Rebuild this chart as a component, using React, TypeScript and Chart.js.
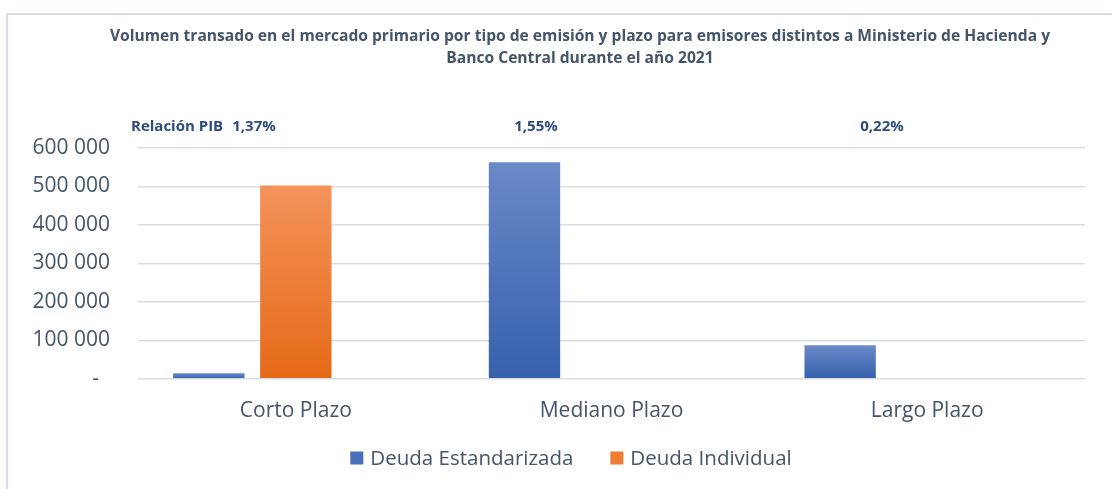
import React, { useEffect, useRef } from "react";
import { Chart, registerables } from "chart.js";

Chart.register(...registerables);

const categories = ["Corto Plazo", "Mediano Plazo", "Largo Plazo"];
const deudaEstandarizada = [14400, 562700, 87500];
const deudaIndividual = [502600, 0, 0];
const relacionPIB = ["1,37%", "1,55%", "0,22%"];
const seriesNames = ["Deuda Estandarizada", "Deuda Individual"];
const legendColors = ["#4A6FB9", "#EE7C35"];
const titleLines = [
  "Volumen transado en el mercado primario por tipo de emisión y plazo para emisores distintos a Ministerio de Hacienda y",
  "Banco Central durante el año 2021",
];

const FONT = "'Open Sans', 'Noto Sans', sans-serif";
const TEXT = "#44546A";
const NAVY = "#2E4B7E";

function barGradient(top: string, bottom: string) {
  return (ctx: any) => {
    const chart = ctx.chart;
    const y = chart.scales?.y;
    const v = ctx.parsed?.y;
    if (!y || v == null || !chart.chartArea) return bottom;
    const y0 = y.getPixelForValue(v);
    const y1 = y.getPixelForValue(0);
    if (!isFinite(y0) || !isFinite(y1) || Math.abs(y1 - y0) < 1) return bottom;
    const g = chart.ctx.createLinearGradient(0, y0, 0, y1);
    g.addColorStop(0, top);
    g.addColorStop(1, bottom);
    return g;
  };
}

const decorPlugin = {
  id: "decor",
  beforeDraw(chart: any) {
    const c = chart.ctx;
    c.save();
    c.fillStyle = "#ffffff";
    c.fillRect(0, 0, chart.width, chart.height);
    c.strokeStyle = "#D9DEE6";
    c.lineWidth = 2;
    c.beginPath();
    c.moveTo(7, chart.height);
    c.lineTo(7, 14);
    c.lineTo(chart.width, 14);
    c.stroke();
    c.restore();
  },
  afterDraw(chart: any) {
    const c = chart.ctx;
    const area = chart.chartArea;
    c.save();
    c.fillStyle = TEXT;
    c.textAlign = "center";
    c.textBaseline = "middle";
    c.font = `bold 15.6px ${FONT}`;
    c.fillText(titleLines[0], 580, 37);
    c.fillText(titleLines[1], 580, 59);

    c.fillStyle = NAVY;
    c.font = `bold 15px ${FONT}`;
    c.textAlign = "left";
    c.fillText("Relación PIB", area.left - 7, 127);
    c.textAlign = "center";
    const centers = [254, 536, 882];
    relacionPIB.forEach((t, i) => {
      c.fillText(t, centers[i], 127);
    });

    // legend
    c.font = `20.5px ${FONT}`;
    const box = 13;
    const gapBoxText = 7;
    const gapItems = 37;
    const widths = seriesNames.map((s) => c.measureText(s).width);
    const total =
      widths.reduce((a, w) => a + w + box + gapBoxText, 0) + gapItems * (seriesNames.length - 1);
    let x = 571 - total / 2;
    const yc = 458;
    c.textAlign = "left";
    seriesNames.forEach((s, i) => {
      c.fillStyle = legendColors[i];
      c.fillRect(x, yc - box / 2, box, box);
      x += box + gapBoxText;
      c.fillStyle = TEXT;
      c.fillText(s, x, yc + 1);
      x += widths[i] + gapItems;
    });
    c.restore();
  },
};

export default function App() {
  const ref = useRef<HTMLCanvasElement | null>(null);
  useEffect(() => {
    if (!ref.current) return;
    const chart = new Chart(ref.current, {
      type: "bar",
      data: {
        labels: categories,
        datasets: [
          {
            label: seriesNames[0],
            data: deudaEstandarizada,
            backgroundColor: barGradient("#6A89C8", "#3660AD"),
            borderWidth: 0,
          },
          {
            label: seriesNames[1],
            data: deudaIndividual,
            backgroundColor: barGradient("#F4935B", "#E56916"),
            borderWidth: 0,
          },
          {
            label: "hidden",
            data: [null, null, null],
            backgroundColor: "rgba(0,0,0,0)",
            borderWidth: 0,
          },
        ],
      },
      options: {
        responsive: false,
        animation: false,
        devicePixelRatio: 1,
        layout: { padding: { top: 148, left: 20, right: 27, bottom: 45 } },
        datasets: {
          bar: { categoryPercentage: 0.827, barPercentage: 0.82 },
        },
        scales: {
          x: {
            grid: { display: false, drawTicks: false },
            border: { display: false },
            ticks: {
              color: TEXT,
              font: { family: FONT, size: 21 },
              padding: 20,
            },
          },
          y: {
            min: 0,
            max: 600000,
            afterFit: (s: any) => {
              s.width = 118;
            },
            grid: {
              color: "#D9DDE3",
              lineWidth: 1.5,
              drawTicks: false,
            },
            border: { display: false },
            ticks: {
              stepSize: 100000,
              padding: 28,
              color: TEXT,
              font: { family: FONT, size: 21 },
              callback: (v: any) =>
                Number(v) === 0
                  ? "-  "
                  : String(v).replace(/\B(?=(\d{3})+(?!\d))/g, " "),
            },
          },
        },
        plugins: {
          title: { display: false },
          tooltip: { enabled: false },
          legend: { display: false },
        },
      },
      plugins: [decorPlugin],
    });
    return () => chart.destroy();
  }, []);
  return (
    <div style={{ position: "absolute", left: 0, top: 0, width: 1112, height: 489 }}>
      <canvas ref={ref} width={1112} height={489} />
    </div>
  );
}
